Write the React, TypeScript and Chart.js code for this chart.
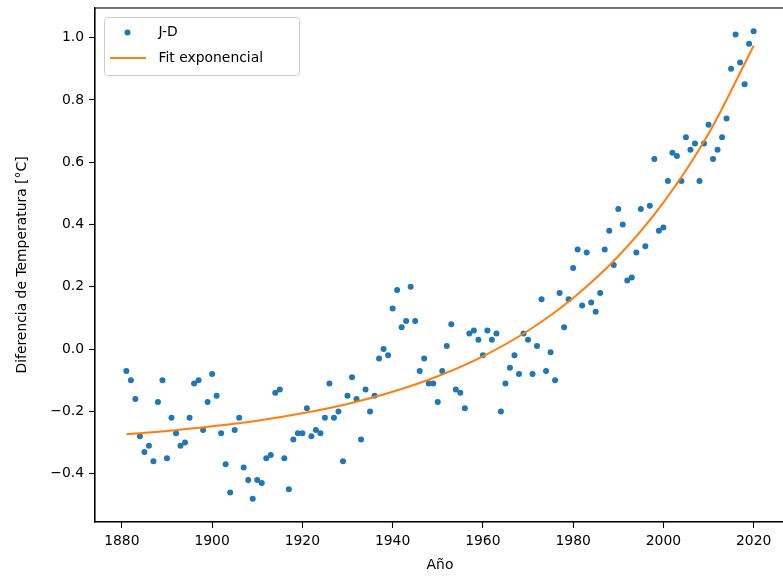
import React, { useEffect, useRef } from "react";
import { Chart, registerables } from "chart.js";

Chart.register(...registerables);

const years = [
  1881, 1882, 1883, 1884, 1885, 1886, 1887, 1888, 1889, 1890,
  1891, 1892, 1893, 1894, 1895, 1896, 1897, 1898, 1899, 1900,
  1901, 1902, 1903, 1904, 1905, 1906, 1907, 1908, 1909, 1910,
  1911, 1912, 1913, 1914, 1915, 1916, 1917, 1918, 1919, 1920,
  1921, 1922, 1923, 1924, 1925, 1926, 1927, 1928, 1929, 1930,
  1931, 1932, 1933, 1934, 1935, 1936, 1937, 1938, 1939, 1940,
  1941, 1942, 1943, 1944, 1945, 1946, 1947, 1948, 1949, 1950,
  1951, 1952, 1953, 1954, 1955, 1956, 1957, 1958, 1959, 1960,
  1961, 1962, 1963, 1964, 1965, 1966, 1967, 1968, 1969, 1970,
  1971, 1972, 1973, 1974, 1975, 1976, 1977, 1978, 1979, 1980,
  1981, 1982, 1983, 1984, 1985, 1986, 1987, 1988, 1989, 1990,
  1991, 1992, 1993, 1994, 1995, 1996, 1997, 1998, 1999, 2000,
  2001, 2002, 2003, 2004, 2005, 2006, 2007, 2008, 2009, 2010,
  2011, 2012, 2013, 2014, 2015, 2016, 2017, 2018, 2019, 2020,
];

const jd = [
  -0.07, -0.10, -0.16, -0.28, -0.33, -0.31, -0.36, -0.17, -0.10, -0.35,
  -0.22, -0.27, -0.31, -0.30, -0.22, -0.11, -0.10, -0.26, -0.17, -0.08,
  -0.15, -0.27, -0.37, -0.46, -0.26, -0.22, -0.38, -0.42, -0.48, -0.42,
  -0.43, -0.35, -0.34, -0.14, -0.13, -0.35, -0.45, -0.29, -0.27, -0.27,
  -0.19, -0.28, -0.26, -0.27, -0.22, -0.11, -0.22, -0.20, -0.36, -0.15,
  -0.09, -0.16, -0.29, -0.13, -0.20, -0.15, -0.03, 0.00, -0.02, 0.13,
  0.19, 0.07, 0.09, 0.20, 0.09, -0.07, -0.03, -0.11, -0.11, -0.17,
  -0.07, 0.01, 0.08, -0.13, -0.14, -0.19, 0.05, 0.06, 0.03, -0.02,
  0.06, 0.03, 0.05, -0.20, -0.11, -0.06, -0.02, -0.08, 0.05, 0.03,
  -0.08, 0.01, 0.16, -0.07, -0.01, -0.10, 0.18, 0.07, 0.16, 0.26,
  0.32, 0.14, 0.31, 0.15, 0.12, 0.18, 0.32, 0.38, 0.27, 0.45,
  0.40, 0.22, 0.23, 0.31, 0.45, 0.33, 0.46, 0.61, 0.38, 0.39,
  0.54, 0.63, 0.62, 0.54, 0.68, 0.64, 0.66, 0.54, 0.66, 0.72,
  0.61, 0.64, 0.68, 0.74, 0.90, 1.01, 0.92, 0.85, 0.98, 1.02,
];

const fitYears = [1881, 1890, 1900, 1910, 1920, 1930, 1940, 1950, 1960, 1970, 1980, 1990, 2000, 2010, 2020];
const fitValues = [-0.273, -0.263, -0.248, -0.230, -0.206, -0.176, -0.137, -0.087, -0.023, 0.059, 0.164, 0.298, 0.470, 0.691, 0.974];

const xTicks = [1880, 1900, 1920, 1940, 1960, 1980, 2000, 2020];
const yTicks = [-0.4, -0.2, 0.0, 0.2, 0.4, 0.6, 0.8, 1.0];

const seriesLabels = ["J-D", "Fit exponencial"];
const xTitle = "Año";
const yTitle = "Diferencia de Temperatura [°C]";

const FONT = "'DejaVu Sans', sans-serif";
const FS = 13.9;
const BLUE = "#1f77b4";
const ORANGE = "#ff7f0e";

const framePlugin = {
  id: "frame",
  afterDraw(chart: any) {
    const { ctx, chartArea: a } = chart;
    ctx.save();
    ctx.strokeStyle = "#000";
    ctx.lineWidth = 1.1;
    ctx.strokeRect(a.left, a.top, a.right - a.left, a.bottom - a.top);

    // legend (upper left, inside axes)
    const bx = a.left + 9.5;
    const by = a.top + 9.5;
    const bw = 195;
    const bh = 58;
    const r = 3;
    ctx.beginPath();
    ctx.moveTo(bx + r, by);
    ctx.lineTo(bx + bw - r, by);
    ctx.quadraticCurveTo(bx + bw, by, bx + bw, by + r);
    ctx.lineTo(bx + bw, by + bh - r);
    ctx.quadraticCurveTo(bx + bw, by + bh, bx + bw - r, by + bh);
    ctx.lineTo(bx + r, by + bh);
    ctx.quadraticCurveTo(bx, by + bh, bx, by + bh - r);
    ctx.lineTo(bx, by + r);
    ctx.quadraticCurveTo(bx, by, bx + r, by);
    ctx.closePath();
    ctx.fillStyle = "rgba(255,255,255,0.8)";
    ctx.fill();
    ctx.strokeStyle = "#cccccc";
    ctx.lineWidth = 1;
    ctx.stroke();

    const y1 = by + 15;
    const y2 = by + 40.5;
    ctx.fillStyle = BLUE;
    ctx.beginPath();
    ctx.arc(bx + 23, y1, 3, 0, Math.PI * 2);
    ctx.fill();
    ctx.strokeStyle = ORANGE;
    ctx.lineWidth = 2;
    ctx.beginPath();
    ctx.moveTo(bx + 5.5, y2);
    ctx.lineTo(bx + 41.5, y2);
    ctx.stroke();

    ctx.fillStyle = "#000";
    ctx.font = `${FS}px ${FONT}`;
    ctx.textAlign = "left";
    ctx.textBaseline = "middle";
    ctx.fillText(seriesLabels[0], bx + 54, y1);
    ctx.fillText(seriesLabels[1], bx + 54, y2);
    ctx.restore();
  },
};

export default function App() {
  const ref = useRef<HTMLCanvasElement | null>(null);

  useEffect(() => {
    if (!ref.current) return;
    const points = years.map((y, i) => ({ x: y, y: jd[i] }));
    const fitPts = fitYears.map((y, i) => ({ x: y, y: fitValues[i] }));
    const chart = new Chart(ref.current, {
      type: "scatter",
      data: {
        datasets: [
          {
            label: seriesLabels[0],
            data: points,
            backgroundColor: BLUE,
            borderColor: BLUE,
            borderWidth: 0,
            pointRadius: 3,
            order: 2,
          },
          {
            label: seriesLabels[1],
            data: fitPts,
            showLine: true,
            borderColor: ORANGE,
            backgroundColor: ORANGE,
            borderWidth: 2,
            pointRadius: 0,
            cubicInterpolationMode: "monotone",
            order: 1,
          } as any,
        ],
      },
      options: {
        animation: false,
        responsive: false,
        layout: { padding: { top: 8, right: 0, left: 0, bottom: 0 } },
        plugins: { legend: { display: false }, tooltip: { enabled: false } },
        scales: {
          x: {
            type: "linear",
            min: 1874.05,
            max: 2026.95,
            afterBuildTicks: (s: any) => {
              s.ticks = xTicks.map((v) => ({ value: v }));
            },
            afterFit: (s: any) => {
              s.height = 59;
              s.paddingLeft = 0;
              s.paddingRight = 0;
            },
            ticks: {
              autoSkip: false,
              maxRotation: 0,
              padding: 5,
              color: "#000",
              font: { family: FONT, size: FS },
              callback: (v: any) => String(v),
            },
            grid: {
              display: true,
              drawOnChartArea: false,
              drawTicks: true,
              tickLength: 6,
              tickColor: "#000",
              tickWidth: 1.1,
            },
            border: { display: true, color: "#000", width: 1.1 },
            title: {
              display: true,
              text: xTitle,
              color: "#000",
              font: { family: FONT, size: FS },
              padding: { top: 7, bottom: 7 },
            },
          },
          y: {
            type: "linear",
            min: -0.555,
            max: 1.095,
            afterBuildTicks: (s: any) => {
              s.ticks = yTicks.map((v) => ({ value: v }));
            },
            afterFit: (s: any) => {
              s.width = 95;
              s.paddingTop = 0;
              s.paddingBottom = 0;
            },
            ticks: {
              autoSkip: false,
              padding: 5,
              color: "#000",
              font: { family: FONT, size: FS },
              callback: (v: any) => {
                const n = Number(v);
                const s = Math.abs(n).toFixed(1);
                return n < -1e-9 ? "\u2212" + s : s;
              },
            },
            grid: {
              display: true,
              drawOnChartArea: false,
              drawTicks: true,
              tickLength: 6,
              tickColor: "#000",
              tickWidth: 1.1,
            },
            border: { display: true, color: "#000", width: 1.1 },
            title: {
              display: true,
              text: yTitle,
              color: "#000",
              font: { family: FONT, size: FS },
              padding: { top: 14, bottom: 14 },
            },
          },
        },
      },
      plugins: [framePlugin],
    });
    return () => chart.destroy();
  }, []);

  return (
    <div style={{ position: "absolute", left: 0, top: 0, width: 783, height: 581, overflow: "hidden", background: "#fff" }}>
      <canvas ref={ref} width={789} height={581} style={{ display: "block" }} />
    </div>
  );
}
